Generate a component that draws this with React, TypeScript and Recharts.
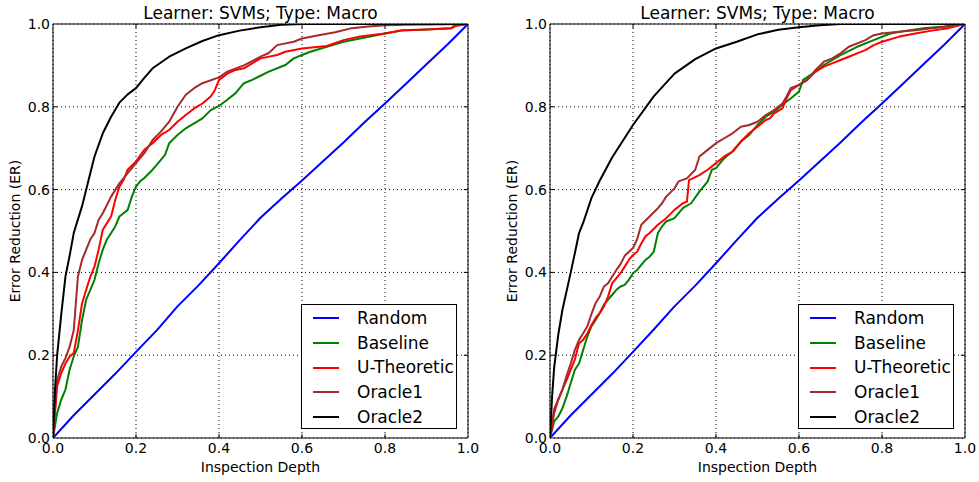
import React from 'react';
import { LineChart, Line, XAxis, YAxis, CartesianGrid, ReferenceArea, ReferenceLine, Legend } from 'recharts';

type P = [number, number];

const ticks = [0, 0.2, 0.4, 0.6, 0.8, 1.0];
const innerTicks = [0.2, 0.4, 0.6, 0.8];
const seriesNames = ['Random', 'Baseline', 'U-Theoretic', 'Oracle1', 'Oracle2'];
const seriesColors = ['#0000ff', '#008000', '#ff0000', '#a52a2a', '#000000'];
const titleText = 'Learner: SVMs; Type: Macro';
const xLabel = 'Inspection Depth';
const yLabel = 'Error Reduction (ER)';

// ---------- Left panel ----------
const leftRandom: P[] = [[0,0],[0.05,0.055],[0.1,0.105],[0.15,0.155],[0.2,0.208],[0.25,0.26],[0.3,0.318],[0.35,0.368],[0.4,0.422],[0.45,0.478],[0.5,0.532],[0.55,0.578],[0.6,0.622],[0.65,0.668],[0.7,0.714],[0.75,0.762],[0.8,0.808],[0.85,0.855],[0.9,0.903],[0.95,0.95],[1,1]];
const leftBaseline: P[] = [[0,0],[0.01,0.06],[0.02,0.093],[0.03,0.117],[0.04,0.165],[0.05,0.197],[0.06,0.22],[0.07,0.285],[0.08,0.334],[0.09,0.358],[0.1,0.382],[0.11,0.422],[0.12,0.455],[0.13,0.48],[0.14,0.495],[0.15,0.511],[0.16,0.535],[0.17,0.543],[0.18,0.551],[0.19,0.583],[0.2,0.607],[0.21,0.62],[0.22,0.628],[0.24,0.648],[0.26,0.672],[0.27,0.684],[0.28,0.712],[0.3,0.732],[0.32,0.748],[0.34,0.76],[0.36,0.772],[0.38,0.792],[0.4,0.802],[0.42,0.817],[0.44,0.833],[0.46,0.857],[0.48,0.865],[0.5,0.875],[0.52,0.885],[0.56,0.901],[0.58,0.917],[0.6,0.925],[0.62,0.933],[0.66,0.945],[0.7,0.957],[0.74,0.965],[0.8,0.977],[0.84,0.984],[0.9,0.987],[0.96,0.99],[0.97,0.998],[1,1]];
const leftUTheoretic: P[] = [[0,0],[0.01,0.125],[0.02,0.157],[0.03,0.18],[0.04,0.197],[0.05,0.205],[0.06,0.26],[0.07,0.325],[0.08,0.358],[0.09,0.39],[0.1,0.414],[0.11,0.455],[0.12,0.503],[0.13,0.519],[0.14,0.535],[0.15,0.575],[0.16,0.607],[0.17,0.623],[0.18,0.648],[0.2,0.668],[0.22,0.696],[0.24,0.712],[0.26,0.732],[0.28,0.744],[0.3,0.764],[0.32,0.78],[0.34,0.796],[0.36,0.808],[0.38,0.825],[0.39,0.84],[0.4,0.865],[0.42,0.88],[0.44,0.889],[0.46,0.893],[0.5,0.917],[0.54,0.925],[0.56,0.933],[0.6,0.941],[0.66,0.947],[0.7,0.961],[0.74,0.97],[0.8,0.977],[0.84,0.985],[0.9,0.987],[0.96,0.99],[0.97,0.995],[1,1]];
const leftOracle1: P[] = [[0,0],[0.01,0.14],[0.02,0.173],[0.03,0.193],[0.04,0.22],[0.05,0.26],[0.06,0.39],[0.07,0.43],[0.08,0.455],[0.09,0.48],[0.1,0.495],[0.11,0.527],[0.12,0.543],[0.14,0.583],[0.16,0.615],[0.18,0.64],[0.2,0.664],[0.22,0.688],[0.24,0.72],[0.26,0.74],[0.28,0.764],[0.3,0.8],[0.32,0.829],[0.34,0.845],[0.36,0.857],[0.4,0.871],[0.42,0.885],[0.46,0.9],[0.5,0.921],[0.52,0.93],[0.54,0.949],[0.58,0.957],[0.6,0.965],[0.64,0.973],[0.68,0.98],[0.72,0.99],[0.76,0.994],[0.8,0.997],[0.85,0.998],[1,1]];
const leftOracle2: P[] = [[0,0],[0.005,0.12],[0.01,0.2],[0.02,0.3],[0.03,0.39],[0.04,0.44],[0.05,0.495],[0.07,0.56],[0.085,0.62],[0.1,0.68],[0.12,0.736],[0.14,0.776],[0.16,0.81],[0.18,0.83],[0.2,0.845],[0.22,0.87],[0.24,0.893],[0.28,0.921],[0.32,0.941],[0.36,0.959],[0.4,0.973],[0.45,0.984],[0.5,0.992],[0.55,0.998],[0.6,1],[1,1]];

// ---------- Right panel ----------
const rightRandom: P[] = [[0,0],[0.05,0.055],[0.1,0.105],[0.15,0.155],[0.2,0.208],[0.25,0.262],[0.3,0.318],[0.35,0.368],[0.4,0.422],[0.45,0.478],[0.5,0.532],[0.55,0.578],[0.6,0.622],[0.65,0.668],[0.7,0.714],[0.75,0.762],[0.8,0.808],[0.85,0.855],[0.9,0.903],[0.95,0.95],[1,1]];
const rightBaseline: P[] = [[0,0],[0.01,0.04],[0.02,0.052],[0.03,0.072],[0.04,0.1],[0.05,0.133],[0.06,0.165],[0.07,0.18],[0.08,0.213],[0.09,0.245],[0.1,0.27],[0.11,0.285],[0.12,0.302],[0.13,0.322],[0.14,0.334],[0.15,0.346],[0.16,0.358],[0.17,0.366],[0.18,0.37],[0.19,0.382],[0.2,0.398],[0.21,0.406],[0.22,0.418],[0.23,0.43],[0.24,0.438],[0.25,0.45],[0.26,0.495],[0.27,0.511],[0.28,0.523],[0.3,0.531],[0.32,0.555],[0.34,0.567],[0.36,0.595],[0.38,0.62],[0.39,0.648],[0.4,0.652],[0.42,0.676],[0.44,0.692],[0.46,0.716],[0.48,0.732],[0.5,0.756],[0.52,0.776],[0.54,0.788],[0.56,0.805],[0.58,0.82],[0.6,0.837],[0.61,0.865],[0.64,0.885],[0.66,0.901],[0.7,0.925],[0.74,0.945],[0.78,0.961],[0.82,0.977],[0.86,0.984],[0.9,0.99],[0.95,0.994],[1,1]];
const rightUTheoretic: P[] = [[0,0],[0.01,0.06],[0.02,0.093],[0.03,0.117],[0.04,0.14],[0.05,0.165],[0.06,0.19],[0.07,0.229],[0.08,0.237],[0.09,0.253],[0.1,0.273],[0.11,0.29],[0.12,0.302],[0.13,0.318],[0.14,0.342],[0.15,0.374],[0.16,0.386],[0.17,0.398],[0.18,0.414],[0.19,0.43],[0.2,0.442],[0.21,0.45],[0.22,0.47],[0.23,0.487],[0.24,0.495],[0.26,0.515],[0.28,0.531],[0.3,0.551],[0.32,0.567],[0.33,0.571],[0.335,0.623],[0.36,0.635],[0.38,0.648],[0.4,0.664],[0.42,0.68],[0.44,0.692],[0.46,0.716],[0.48,0.736],[0.5,0.752],[0.52,0.768],[0.53,0.772],[0.54,0.784],[0.56,0.796],[0.57,0.82],[0.58,0.84],[0.6,0.853],[0.62,0.865],[0.64,0.885],[0.66,0.897],[0.68,0.905],[0.7,0.913],[0.72,0.921],[0.74,0.929],[0.76,0.937],[0.78,0.949],[0.8,0.957],[0.84,0.969],[0.88,0.977],[0.92,0.984],[0.96,0.99],[1,1]];
const rightOracle1: P[] = [[0,0],[0.01,0.07],[0.02,0.093],[0.03,0.117],[0.04,0.15],[0.05,0.18],[0.06,0.213],[0.07,0.237],[0.08,0.253],[0.09,0.27],[0.1,0.3],[0.11,0.326],[0.12,0.342],[0.13,0.366],[0.14,0.374],[0.15,0.39],[0.16,0.406],[0.17,0.42],[0.18,0.44],[0.2,0.459],[0.21,0.48],[0.22,0.515],[0.24,0.535],[0.26,0.555],[0.27,0.567],[0.28,0.583],[0.3,0.603],[0.31,0.62],[0.33,0.627],[0.35,0.648],[0.36,0.68],[0.38,0.696],[0.4,0.712],[0.42,0.724],[0.44,0.736],[0.46,0.752],[0.48,0.756],[0.5,0.764],[0.52,0.78],[0.54,0.792],[0.56,0.808],[0.57,0.825],[0.58,0.845],[0.6,0.853],[0.62,0.865],[0.64,0.889],[0.66,0.909],[0.68,0.917],[0.7,0.929],[0.72,0.945],[0.76,0.961],[0.78,0.973],[0.8,0.977],[0.84,0.981],[0.88,0.985],[0.92,0.99],[0.96,0.994],[1,1]];
const rightOracle2: P[] = [[0,0],[0.005,0.1],[0.01,0.17],[0.02,0.25],[0.03,0.31],[0.05,0.4],[0.06,0.447],[0.07,0.495],[0.08,0.52],[0.1,0.58],[0.12,0.622],[0.15,0.678],[0.2,0.756],[0.25,0.825],[0.3,0.88],[0.35,0.915],[0.4,0.941],[0.45,0.957],[0.5,0.975],[0.55,0.986],[0.6,0.992],[0.65,0.997],[0.7,1],[1,1]];

const leftSeries = [leftRandom, leftBaseline, leftUTheoretic, leftOracle1, leftOracle2];
const rightSeries = [rightRandom, rightBaseline, rightUTheoretic, rightOracle1, rightOracle2];

const FONT = '"DejaVu Sans", sans-serif';
const CHART_W = 490;
const CHART_H = 482;
const MARGIN = { top: 24, right: 22, bottom: 8, left: 8 };
const Y_AXIS_W = 45;
const X_AXIS_H = 36;
const TICK_LEN = 0.01;

const toPts = (arr: P[]) => arr.map(([x, y]) => ({ x, y }));
const fmt = (v: number) => v.toFixed(1);

const LegendBox = () => (
  <div
    style={{
      width: 156,
      height: 125,
      border: '1px solid #000',
      background: '#fff',
      fontFamily: FONT,
      fontSize: 17,
      color: '#000',
      boxSizing: 'border-box',
      paddingTop: 1,
    }}
  >
    {seriesNames.map((n, i) => (
      <div key={n} style={{ display: 'flex', alignItems: 'center', height: 24.7, lineHeight: '24.7px' }}>
        <div style={{ width: 26, height: 2, background: seriesColors[i], marginLeft: 11, marginRight: 18 }} />
        <span>{n}</span>
      </div>
    ))}
  </div>
);

function Panel({ series, left }: { series: P[][]; left: number }) {
  const plotL = MARGIN.left + Y_AXIS_W;
  const plotR = CHART_W - MARGIN.right;
  const plotT = MARGIN.top;
  const plotB = CHART_H - MARGIN.bottom - X_AXIS_H;
  const cx = (plotL + plotR) / 2;
  const cy = (plotT + plotB) / 2;
  return (
    <div style={{ position: 'absolute', left, top: 0, width: CHART_W, height: CHART_H }}>
      <LineChart width={CHART_W} height={CHART_H} margin={MARGIN}>
        <CartesianGrid stroke="#000" strokeWidth={1} strokeDasharray="1 3" />
        <XAxis
          type="number"
          dataKey="x"
          domain={[0, 1]}
          ticks={ticks}
          tickFormatter={fmt}
          allowDataOverflow
          height={X_AXIS_H}
          axisLine={false}
          tickLine={false}
          tickSize={3}
          tickMargin={2}
          tick={{ fill: '#000', fontSize: 14, fontFamily: FONT }}
        />
        <YAxis
          type="number"
          domain={[0, 1]}
          ticks={ticks}
          tickFormatter={fmt}
          allowDataOverflow
          width={Y_AXIS_W}
          axisLine={false}
          tickLine={false}
          tickSize={3}
          tickMargin={0}
          tick={{ fill: '#000', fontSize: 14, fontFamily: FONT }}
        />
        {series.map((s, i) => (
          <Line
            key={seriesNames[i]}
            data={toPts(s)}
            dataKey="y"
            name={seriesNames[i]}
            type="linear"
            stroke={seriesColors[i]}
            strokeWidth={2}
            strokeLinejoin="round"
            dot={false}
            activeDot={false}
            isAnimationActive={false}
          />
        ))}
        {innerTicks.map((t) => (
          <ReferenceLine key={'b' + t} segment={[{ x: t, y: 0 }, { x: t, y: TICK_LEN }]} stroke="#000" strokeWidth={1} />
        ))}
        {innerTicks.map((t) => (
          <ReferenceLine key={'t' + t} segment={[{ x: t, y: 1 }, { x: t, y: 1 - TICK_LEN }]} stroke="#000" strokeWidth={1} />
        ))}
        {innerTicks.map((t) => (
          <ReferenceLine key={'l' + t} segment={[{ x: 0, y: t }, { x: TICK_LEN, y: t }]} stroke="#000" strokeWidth={1} />
        ))}
        {innerTicks.map((t) => (
          <ReferenceLine key={'r' + t} segment={[{ x: 1, y: t }, { x: 1 - TICK_LEN, y: t }]} stroke="#000" strokeWidth={1} />
        ))}
        <ReferenceArea x1={0} x2={1} y1={0} y2={1} fill="none" fillOpacity={0} stroke="#000" strokeWidth={1} strokeOpacity={1} />
        <Legend
          layout="vertical"
          align="center"
          verticalAlign="middle"
          content={() => <LegendBox />}
          wrapperStyle={{ left: 301, top: 304, width: 156, height: 125 }}
        />
      </LineChart>
      <svg
        width={CHART_W}
        height={CHART_H}
        style={{ position: 'absolute', left: 0, top: 0, pointerEvents: 'none' }}
      >
        <text x={cx} y={18.5} textAnchor="middle" fontFamily={FONT} fontSize={17} fill="#000">
          {titleText}
        </text>
        <text x={cx} y={471.5} textAnchor="middle" fontFamily={FONT} fontSize={14} fill="#000">
          {xLabel}
        </text>
        <text
          x={20}
          y={cy}
          textAnchor="middle"
          fontFamily={FONT}
          fontSize={14}
          fill="#000"
          transform={`rotate(-90 20 ${cy})`}
        >
          {yLabel}
        </text>
      </svg>
    </div>
  );
}

export default function App() {
  return (
    <div style={{ position: 'absolute', left: 0, top: 0, width: 979, height: 482, background: '#fff' }}>
      <Panel series={leftSeries} left={0} />
      <Panel series={rightSeries} left={497} />
    </div>
  );
}
